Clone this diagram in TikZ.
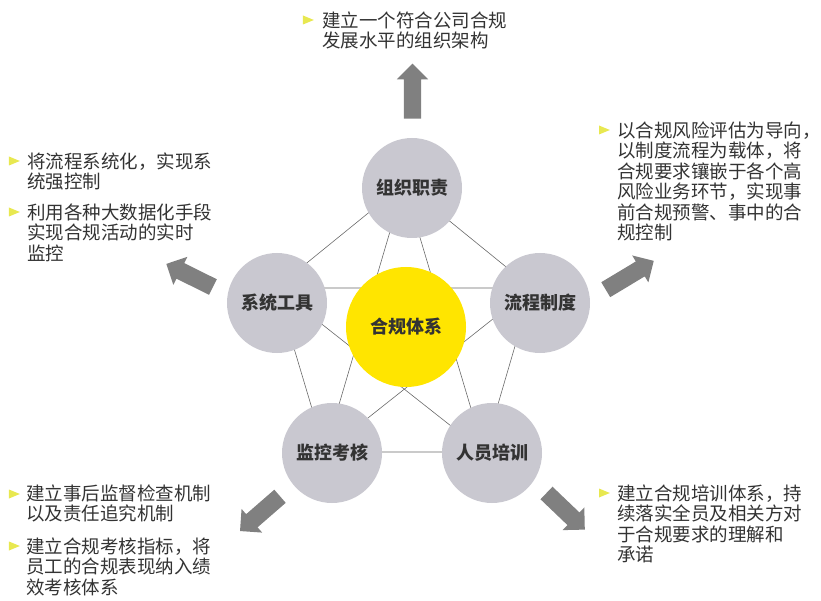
\documentclass[tikz,border=0pt]{standalone}
\usepackage{fontspec}
\setmainfont{Noto Sans CJK SC}
\usetikzlibrary{shapes.geometric,shapes.arrows}

\definecolor{circgray}{RGB}{201,200,208}
\definecolor{coreyellow}{RGB}{255,229,0}
\definecolor{arrgray}{RGB}{128,128,128}
\definecolor{webgray}{RGB}{105,105,105}
\definecolor{txtgray}{RGB}{51,51,51}
\definecolor{tickyellow}{RGB}{232,232,80}

\tikzset{
  pillar/.style={circle, fill=circgray, minimum size=100pt, inner sep=0pt,
    text=txtgray, font=\fontsize{18}{20}\selectfont\bfseries},
  core/.style={pillar, fill=coreyellow, minimum size=120pt},
  outarrow/.style={single arrow, fill=arrgray, inner sep=8.5pt,
    single arrow head extend=7pt, single arrow tip angle=90},
  note/.style={anchor=north west, align=left, inner sep=0pt, text=txtgray,
    font=\fontsize{18.5}{20.5}\selectfont},
  tick/.style={isosceles triangle, fill=tickyellow, inner sep=0pt, minimum size=9pt},
  web/.style={draw=webgray, line width=0.6pt}
}

\begin{document}
\begin{tikzpicture}[x=1pt,y=-1pt]
  \useasboundingbox (0,0) rectangle (821,601);
  % corners of the web
  \coordinate (wT) at (404,184);
  \coordinate (wL) at (276,288);
  \coordinate (wR) at (532,288);
  \coordinate (wBL) at (325,452);
  \coordinate (wBR) at (484,452);
  % outer ring and inner star
  \draw[web] (wT) -- (wR) -- (wBR) -- (wBL) -- (wL) -- cycle;
  \draw[web] (wT) -- (wBL) -- (wR) -- (wL) -- (wBR) -- cycle;

  \node[pillar] (org) at (412,188) {组织职责};
  \node[pillar] (tools) at (277,303) {系统工具};
  \node[pillar] (proc) at (540,303) {流程制度};
  \node[pillar] (audit) at (332,453) {监控考核};
  \node[pillar] (train) at (492,453) {人员培训};
  \node[core] (core) at (406,327) {合规体系};

  % block arrows pointing out
  \node[outarrow, minimum height=55pt, rotate=90] (upArr) at (412.5,95.5) {};
  \node[outarrow, minimum height=52pt, rotate=153.6] (leftArr) at (193.5,277.4) {};
  \node[outarrow, minimum height=56pt, rotate=31] (rightArr) at (626,277.5) {};
  \node[outarrow, minimum height=53pt, rotate=221] (blArr) at (263.3,510.8) {};
  \node[outarrow, minimum height=53pt, rotate=-43.7] (brArr) at (562.5,508.3) {};

  % bullets
  \node[tick] (t1) at (306,20) {};
  \node[tick] (t2) at (12,161) {};
  \node[tick] (t3) at (12,212) {};
  \node[tick] (t4) at (602,130) {};
  \node[tick] (t5) at (12,494) {};
  \node[tick] (t6) at (12,546) {};
  \node[tick] (t7) at (602,493) {};

  % notes
  \node[note] (n1) at (322,11.5) {建立一个符合公司合规\\发展水平的组织架构};
  \node[note] (n2) at (27,152.5) {将流程系统化，实现系\\统强控制};
  \node[note] (n3) at (27,203.5) {利用各种大数据化手段\\实现合规活动的实时\\监控};
  \node[note] (n4) at (617,121.5) {以合规风险评估为导向，\\以制度流程为载体，将\\合规要求镶嵌于各个高\\风险业务环节，实现事\\前合规预警、事中的合\\规控制};
  \node[note] (n5) at (26,484.5) {建立事后监督检查机制\\以及责任追究机制};
  \node[note] (n6) at (26,537.5) {建立合规考核指标，将\\员工的合规表现纳入绩\\效考核体系};
  \node[note] (n7) at (617,484.5) {建立合规培训体系，持\\续落实全员及相关方对\\于合规要求的理解和\\承诺};
\end{tikzpicture}
\end{document}
